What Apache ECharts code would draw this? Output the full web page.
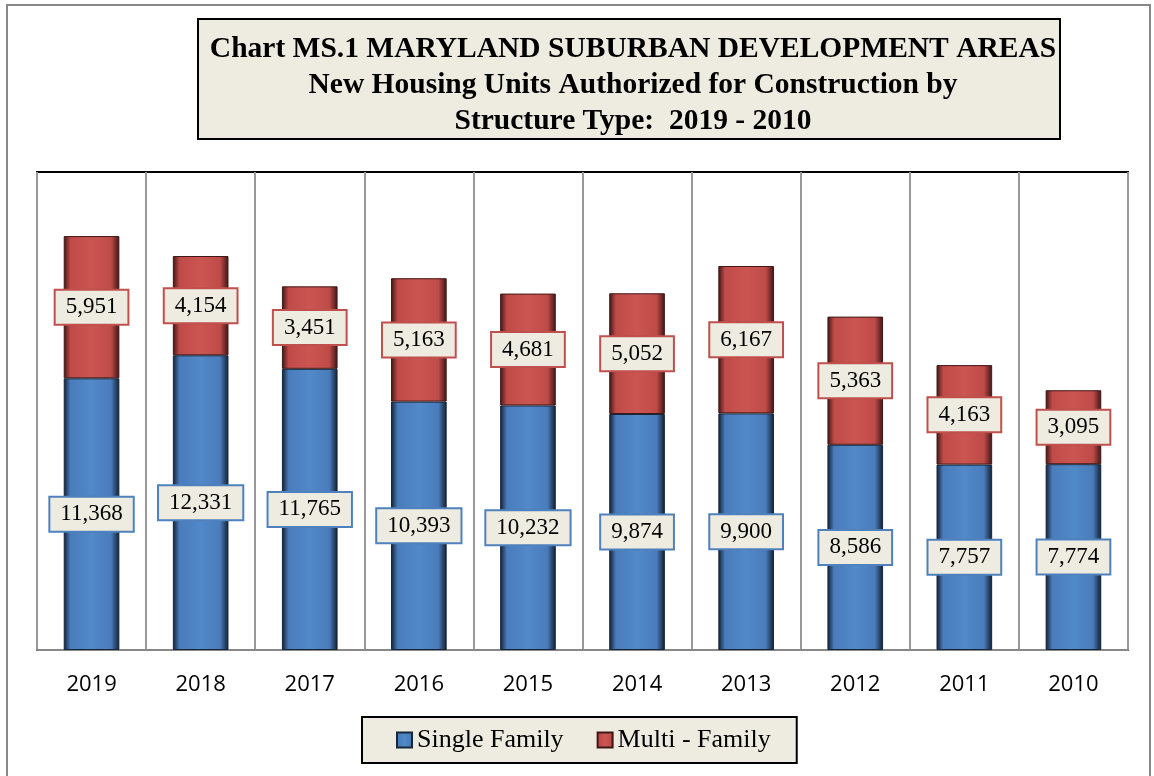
<!DOCTYPE html>
<html>
<head>
<meta charset="utf-8">
<script src="https://cdn.jsdelivr.net/npm/echarts@6/dist/echarts.min.js"></script>
<style>
  html, body { margin: 0; padding: 0; background: #fff; }
  #chart { width: 1154px; height: 776px; }
</style>
</head>
<body>
<div id="chart"></div>
<script>
const years = ['2019', '2018', '2017', '2016', '2015', '2014', '2013', '2012', '2011', '2010'];
const singleFamily = [11368, 12331, 11765, 10393, 10232, 9874, 9900, 8586, 7757, 7774];
const multiFamily = [5951, 4154, 3451, 5163, 4681, 5052, 6167, 5363, 4163, 3095];

const serif = '"Liberation Serif", "DejaVu Serif", serif';

// bar fill with dark edges to fake the bevel look
function bevel(dark, mid, light) {
  return new echarts.graphic.LinearGradient(0, 0, 1, 0, [
    { offset: 0, color: dark },
    { offset: 0.12, color: mid },
    { offset: 0.5, color: light },
    { offset: 0.85, color: mid },
    { offset: 1, color: dark }
  ]);
}

function fmt(v) {
  return v.toLocaleString('en-US');
}

const chart = echarts.init(document.getElementById('chart'));

const option = {
  animation: false,
  title: {
    text: 'Chart MS.1 MARYLAND SUBURBAN DEVELOPMENT AREAS\nNew Housing Units Authorized for Construction by\nStructure Type:  2019 - 2010',
    left: 628,
    top: 26,
    textAlign: 'center',
    textStyle: {
      fontFamily: serif,
      fontWeight: 'bold',
      fontSize: 29.5,
      lineHeight: 36,
      color: '#000'
    }
  },
  graphic: [
    {
      type: 'rect',
      shape: { x: 7, y: 5, width: 1143, height: 775 },
      style: { fill: 'none', stroke: '#888', lineWidth: 2 },
      z: -10
    },
    {
      type: 'rect',
      shape: { x: 198, y: 19, width: 862, height: 120 },
      style: { fill: '#EEECE1', stroke: '#000', lineWidth: 2 },
      z: -5
    }
  ],
  legend: {
    top: 717,
    left: 362,
    icon: 'rect',
    itemWidth: 15,
    itemHeight: 15,
    itemGap: 33,
    padding: [10, 26, 10, 34],
    backgroundColor: '#EEECE1',
    borderColor: '#000',
    borderWidth: 2,
    textStyle: { fontFamily: serif, fontSize: 26, color: '#000' },
    data: ['Single Family', 'Multi - Family']
  },
  grid: {
    left: 37,
    right: 26,
    top: 172,
    bottom: 126,
    show: true,
    borderColor: '#000',
    borderWidth: 2,
    backgroundColor: '#fff'
  },
  xAxis: {
    type: 'category',
    data: years,
    axisLine: { lineStyle: { color: '#888', width: 2 } },
    axisTick: { show: false },
    splitLine: { show: true, lineStyle: { color: '#999', width: 2 } },
    axisLabel: {
      fontFamily: '"Open Sans", "Liberation Sans", sans-serif',
      fontSize: 22,
      color: '#000',
      margin: 24
    }
  },
  yAxis: {
    type: 'value',
    min: 0,
    max: 20000,
    show: false,
    splitLine: { show: false }
  },
  series: [
    {
      name: 'Single Family',
      type: 'bar',
      stack: 'units',
      data: singleFamily,
      barWidth: '51%',
      itemStyle: {
        color: bevel('#101e31', '#4a7cbb', '#5189c9'),
        borderColor: '#16263b',
        borderWidth: 1
      },
      label: {
        show: true,
        position: 'inside',
        formatter: p => fmt(p.value),
        fontFamily: serif,
        fontSize: 23,
        color: '#000',
        backgroundColor: '#EEECE1',
        borderColor: '#4F81BD',
        borderWidth: 2,
        padding: [6, 10, 4, 10]
      }
    },
    {
      name: 'Multi - Family',
      type: 'bar',
      stack: 'units',
      data: multiFamily,
      itemStyle: {
        color: bevel('#3e1514', '#bf4b48', '#cb5551'),
        borderColor: '#3e1817',
        borderWidth: 1
      },
      label: {
        show: true,
        position: 'inside',
        formatter: p => fmt(p.value),
        fontFamily: serif,
        fontSize: 23,
        color: '#000',
        backgroundColor: '#EEECE1',
        borderColor: '#C0504D',
        borderWidth: 2,
        padding: [6, 10, 4, 10]
      }
    }
  ],
  color: ['#3f6ea8', '#a8403d']
};

chart.setOption(option);
</script>
</body>
</html>
